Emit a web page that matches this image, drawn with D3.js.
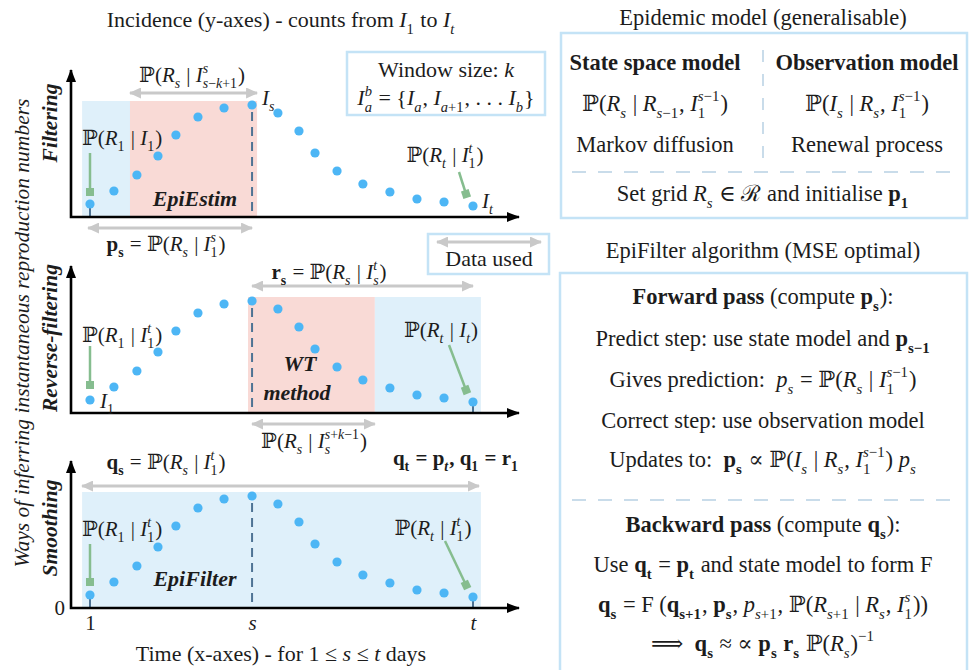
<!DOCTYPE html>
<html><head><meta charset="utf-8">
<script src="https://cdn.jsdelivr.net/npm/d3@7"></script>
<style>body{margin:0;background:#fff} svg text{white-space:pre}</style>
</head><body>
<svg id="c" width="970" height="670"></svg>
<script>
// ---------- data ----------
const days = [1, 2.00, 2.96, 3.84, 4.59, 5.51, 6.60, 7.77, 8.85, 9.73, 10.40, 11.32, 12.40, 13.53, 14.66, 15.79, 17];
const incidence = [13, 26, 42, 61, 82, 100, 109, 112, 104, 86, 64, 46, 33, 25, 18, 15, 11];
const tickDays = [1, 7.77, 17];
const tickLabels = ["1", "s", "t"];
const panelNames = ["Filtering", "Reverse-filtering", "Smoothing"];
const methodNames = ["EpiEstim", "WT method", "EpiFilter"];

// ---------- style ----------
const FF = '"Liberation Serif","DejaVu Serif",serif';
const C = {dot:'#4db6f5', bsh:'#dff0fa', rsh:'#f9dad6', grey:'#c9c9c9', green:'#86bd8f',
           dash:'#4e7394', box:'#c4e3f6', div:'#c9dcea', txt:'#1c1c1c'};

const svg = d3.select('#c');
const defs = svg.append('defs');
function marker(id, color, len, wid){
  defs.append('marker').attr('id',id).attr('viewBox',`0 0 ${len} ${wid}`)
    .attr('refX',len-1).attr('refY',wid/2).attr('markerWidth',len).attr('markerHeight',wid)
    .attr('markerUnits','userSpaceOnUse').attr('orient','auto-start-reverse')
    .append('path').attr('d',`M0,0L${len},${wid/2}L0,${wid}Z`).attr('fill',color);
}
marker('ax','#000',13,10);
marker('gr',C.grey,12,11);

// ---------- rich text (mini math markup) ----------
const cv = document.createElement('canvas').getContext('2d');
function meas(s,it,bd,size){ cv.font=`${it?'italic ':''}${bd?'bold ':''}${size}px ${FF}`; return cv.measureText(s).width; }
function parse(str, baseIt, baseBd){
  let i=0, math=false; const st={b:baseBd, I:baseIt, r:false};
  const mk=c=>({t:'ch', s:c, it: st.I || (math && /[A-Za-z]/.test(c) && !st.b && !st.r), bd:st.b});
  function group(){
    const out=[];
    while(i<str.length){
      const c=str[i];
      if(c==='}'){i++;return out;}
      if(c==='$'){math=!math;i++;continue;}
      if(c==='\\'){
        const cmd=str[i+1];
        if(cmd==='{'||cmd==='}'){ out.push({t:'ch',s:cmd,it:false,bd:st.b}); i+=2; continue; }
        i+=3; const save={...st};
        if(cmd==='b'){st.b=true;st.I=false;} else if(cmd==='B'){st.b=true;st.I=true;}
        else if(cmd==='i'){st.I=true;} else if(cmd==='r'){st.r=true;st.I=false;}
        const inner=group(); Object.assign(st,save); out.push({t:'grp',nodes:inner}); continue;
      }
      if(c==='_'||c==='^'){
        i++; const n={t:'scr',sub:null,sup:null}; n[c==='_'?'sub':'sup']=arg();
        if(str[i]==='_'||str[i]==='^'){ const c2=str[i]; i++; n[c2==='_'?'sub':'sup']=arg(); }
        out.push(n); continue;
      }
      out.push(mk(c)); i++;
    }
    return out;
  }
  function arg(){ if(str[i]==='{'){i++;return group();} const c=str[i]; i++; return [mk(c)]; }
  return group();
}
function lay(nodes,size,x,y,out){
  let run=null;
  const flush=()=>{ if(run){ out.push({x,y,s:run.s,it:run.it,bd:run.bd,size}); x+=meas(run.s,run.it,run.bd,size); run=null; } };
  for(const n of nodes){
    if(n.t==='ch'){ if(run&&run.it===n.it&&run.bd===n.bd) run.s+=n.s; else {flush(); run={s:n.s,it:n.it,bd:n.bd};} }
    else if(n.t==='grp'){ flush(); x=lay(n.nodes,size,x,y,out); }
    else { flush(); const ss=size*0.66; let w=0;
      if(n.sub) w=Math.max(w, lay(n.sub,ss,x,y+size*0.3,out)-x);
      if(n.sup) w=Math.max(w, lay(n.sup,ss,x,y-size*0.43,out)-x);
      x+=w+1; }
  }
  flush(); return x;
}
function rich(g,str,o){
  const size=o.size||21, out=[];
  const w=lay(parse(str,!!o.it,!!o.bd),size,0,0,out);
  const x0=o.anchor==='middle'?o.x-w/2:o.anchor==='end'?o.x-w:o.x;
  const t=g.append('text').attr('font-family',FF).attr('fill',o.fill||C.txt).attr('xml:space','preserve');
  out.forEach(p=>t.append('tspan').attr('x',x0+p.x).attr('y',o.y+p.y).attr('font-size',p.size)
    .attr('font-style',p.it?'italic':'normal').attr('font-weight',p.bd?'bold':'normal').text(p.s));
  return t;
}

// ---------- left: three panels ----------
const x = d3.scaleLinear().domain([1,17]).range([90,473]);
const AXX = 71, XEND = 519, YH = 147, SH = 116;
const sIdx = 7, lastIdx = days.length-1;
const panels = [
  {A:217, regions:[[0.67,2.67,C.bsh],[2.67,7.98,C.rsh]], stems:[0]},
  {A:413, regions:[[7.6,12.9,C.rsh],[12.9,17.33,C.bsh]], stems:[lastIdx]},
  {A:608, regions:[[0.67,17.33,C.bsh]], stems:[0,lastIdx]}
];
const L = svg.append('g');

function greyArrow(g,x1,x2,yy){
  g.append('line').attr('x1',x1).attr('x2',x2).attr('y1',yy).attr('y2',yy)
   .attr('stroke',C.grey).attr('stroke-width',3)
   .attr('marker-start','url(#gr)').attr('marker-end','url(#gr)');
}
function greenArrow(g,x1,y1,x2,y2){
  g.append('line').attr('x1',x1).attr('y1',y1).attr('x2',x2).attr('y2',y2)
   .attr('stroke',C.green).attr('stroke-width',2.5);
  g.append('rect').attr('x',x2-4).attr('y',y2-4).attr('width',8).attr('height',8)
   .attr('fill',C.green).attr('transform',`rotate(${Math.atan2(y2-y1,x2-x1)*180/Math.PI-90},${x2},${y2})`);
}

panels.forEach((p,pi)=>{
  const g = L.append('g');
  const y = d3.scaleLinear().domain([0,YH]).range([p.A, p.A-YH]);
  p.y = y;
  g.selectAll('rect.reg').data(p.regions).join('rect').attr('class','reg')
    .attr('x',d=>x(d[0])).attr('width',d=>x(d[1])-x(d[0]))
    .attr('y',y(SH)).attr('height',y(0)-y(SH)).attr('fill',d=>d[2]);
  g.append('line').attr('x1',x(days[sIdx])).attr('x2',x(days[sIdx]))
    .attr('y1',y(incidence[sIdx])+7).attr('y2',p.A)
    .attr('stroke',C.dash).attr('stroke-width',2).attr('stroke-dasharray','9,6');
  g.selectAll('line.stem').data(p.stems).join('line').attr('class','stem')
    .attr('x1',i=>x(days[i])).attr('x2',i=>x(days[i])).attr('y1',i=>y(incidence[i])).attr('y2',p.A)
    .attr('stroke',C.dash).attr('stroke-width',2);
  g.append('path').attr('d',`M${AXX},${y(YH)}L${AXX},${p.A}L${XEND},${p.A}`)
    .attr('fill','none').attr('stroke','#000').attr('stroke-width',2.6)
    .attr('marker-start','url(#ax)').attr('marker-end','url(#ax)');
  g.selectAll('circle').data(incidence).join('circle')
    .attr('cx',(d,i)=>x(days[i])).attr('cy',d=>y(d)).attr('r',4.6).attr('fill',C.dot);
  g.append('text').attr('transform',`translate(57,${[123,338,528][pi]}) rotate(-90)`)
    .attr('text-anchor','middle').attr('font-family',FF).attr('font-size',21.5)
    .attr('font-weight','bold').attr('font-style','italic').attr('fill',C.txt).text(panelNames[pi]);
});

const [P1,P2,P3] = panels;
const lx = i=>x(days[i]), ly = (p,i)=>p.y(incidence[i]);

// Panel 1: filtering
greyArrow(L, x(2.67), x(7.98), P1.A-124);
greyArrow(L, x(0.92), x(days[sIdx]), P1.A+11);
rich(L, String.raw`$ℙ(R_s | I_{s−k+1}^s)$`, {x:192, y:P1.A-135, anchor:'middle'});
rich(L, String.raw`$I_s$`, {x:lx(sIdx)+10, y:P1.A-112});
rich(L, String.raw`$ℙ(R_1 | I_1)$`, {x:82, y:P1.A-72});
rich(L, methodNames[0], {x:195, y:P1.A-11, anchor:'middle', it:true, bd:true, size:22});
rich(L, String.raw`$ℙ(R_t | I_1^t)$`, {x:445, y:P1.A-55, anchor:'middle'});
rich(L, String.raw`$I_t$`, {x:482, y:P1.A-9});
rich(L, String.raw`$\b{p}_{\b{s}} = ℙ(R_s | I_1^s)$`, {x:166, y:P1.A+34, anchor:'middle'});
greenArrow(L, lx(0), P1.A-64, lx(0), P1.A-25);
greenArrow(L, lx(lastIdx)-14, ly(P1,lastIdx)-34, lx(lastIdx)-7, ly(P1,lastIdx)-12);

// Panel 2: reverse filtering
greyArrow(L, x(days[sIdx]), x(17), P2.A-127);
greyArrow(L, x(days[sIdx]), x(12.9), P2.A+11);
rich(L, String.raw`$\b{r}_{\b{s}} = ℙ(R_s | I_s^t)$`, {x:329, y:P2.A-134, anchor:'middle'});
rich(L, String.raw`$ℙ(R_1 | I_1^t)$`, {x:82, y:P2.A-71});
rich(L, String.raw`$I_1$`, {x:lx(0)+10, y:P2.A-5});
rich(L, methodNames[1].split(' ')[0], {x:300, y:P2.A-42, anchor:'middle', it:true, bd:true, size:22});
rich(L, methodNames[1].split(' ')[1], {x:297, y:P2.A-13, anchor:'middle', it:true, bd:true, size:22});
rich(L, String.raw`$ℙ(R_t | I_t)$`, {x:441, y:P2.A-76, anchor:'middle'});
rich(L, String.raw`$ℙ(R_s | I_s^{s+k−1})$`, {x:314, y:P2.A+35, anchor:'middle'});
greenArrow(L, lx(0), P2.A-67, lx(0), P2.A-28);
greenArrow(L, lx(lastIdx)-24, ly(P2,lastIdx)-57, lx(lastIdx)-7, ly(P2,lastIdx)-12);

// Panel 3: smoothing
greyArrow(L, x(0.67), x(17.25), P3.A-122);
rich(L, String.raw`$\b{q}_{\b{s}} = ℙ(R_s | I_1^t)$`, {x:166, y:P3.A-139, anchor:'middle'});
rich(L, String.raw`$\b{q}_{\b{t}} = \b{p}_{\B{t}}, \b{q}_{\b{1}} = \b{r}_{\b{1}}$`, {x:519, y:P3.A-143, anchor:'end', bd:true});
rich(L, String.raw`$ℙ(R_1 | I_1^t)$`, {x:82, y:P3.A-72});
rich(L, methodNames[2], {x:195, y:P3.A-22, anchor:'middle', it:true, bd:true, size:22});
rich(L, String.raw`$ℙ(R_t | I_1^t)$`, {x:433, y:P3.A-73, anchor:'middle'});
greenArrow(L, lx(0), P3.A-64, lx(0), P3.A-26);
greenArrow(L, lx(lastIdx)-28, ly(P3,lastIdx)-56, lx(lastIdx)-7, ly(P3,lastIdx)-12);

// axis tick labels (bottom panel)
const xAx = L.append('g').attr('transform',`translate(0,${P3.A})`)
  .call(d3.axisBottom(x).tickValues(tickDays).tickFormat((d,i)=>tickLabels[i]).tickSize(0).tickPadding(7));
xAx.select('.domain').remove();
xAx.selectAll('text').attr('font-family',FF).attr('font-size',21).attr('fill',C.txt)
  .attr('font-style',(d,i)=>i>0?'italic':'normal');
const yAx = L.append('g').attr('transform',`translate(${AXX},0)`)
  .call(d3.axisLeft(P3.y).tickValues([0]).tickSize(0).tickPadding(6));
yAx.select('.domain').remove();
yAx.selectAll('text').attr('font-family',FF).attr('font-size',21).attr('fill',C.txt);

// titles
rich(L, String.raw`Incidence (y-axes) - counts from $I_1$ to $I_t$`, {x:281, y:27, anchor:'middle', size:22});
rich(L, String.raw`Time (x-axes) - for 1 ≤ $s$ ≤ $t$ days`, {x:281, y:661, anchor:'middle', size:22});
L.append('text').attr('transform','translate(29,333) rotate(-90)').attr('text-anchor','middle')
  .attr('font-family',FF).attr('font-size',21.5).attr('font-style','italic').attr('fill',C.txt)
  .text('Ways of inferring instantaneous reproduction numbers');

// window-size box
L.append('rect').attr('x',347).attr('y',52).attr('width',198).attr('height',63)
  .attr('fill','#fff').attr('stroke',C.box).attr('stroke-width',2.5);
rich(L, String.raw`Window size: $k$`, {x:446, y:77, anchor:'middle', size:22});
rich(L, String.raw`$I_a^b = \{I_a, I_{a+1}, . . . I_b\}$`, {x:446, y:105, anchor:'middle', size:22});
// data used box
L.append('rect').attr('x',428).attr('y',234).attr('width',121).attr('height',40)
  .attr('fill','#fff').attr('stroke',C.box).attr('stroke-width',2.5);
greyArrow(L, 437, 541, 242);
rich(L, 'Data used', {x:489, y:266, anchor:'middle', size:22});

// ---------- right: model & algorithm ----------
const R = svg.append('g');
const RS = 22.5, RC = 763;
rich(R, 'Epidemic model (generalisable)', {x:RC, y:25, anchor:'middle', size:RS});
R.append('rect').attr('x',561).attr('y',33).attr('width',406).attr('height',185)
  .attr('fill','none').attr('stroke',C.box).attr('stroke-width',2.5);
R.append('line').attr('x1',RC).attr('x2',RC).attr('y1',50).attr('y2',162)
  .attr('stroke',C.div).attr('stroke-width',2).attr('stroke-dasharray','12,12');
R.append('line').attr('x1',572).attr('x2',958).attr('y1',172).attr('y2',172)
  .attr('stroke',C.div).attr('stroke-width',2).attr('stroke-dasharray','14,12');
rich(R, String.raw`\b{State space model}`, {x:655, y:70, anchor:'middle', size:RS});
rich(R, String.raw`\b{Observation model}`, {x:867, y:70, anchor:'middle', size:RS});
rich(R, String.raw`$ℙ(R_s | R_{s−1}, I_1^{s−1})$`, {x:655, y:111, anchor:'middle', size:RS});
rich(R, String.raw`$ℙ(I_s | R_s, I_1^{s−1})$`, {x:867, y:111, anchor:'middle', size:RS});
rich(R, 'Markov diffusion', {x:655, y:152, anchor:'middle', size:RS});
rich(R, 'Renewal process', {x:867, y:152, anchor:'middle', size:RS});
rich(R, String.raw`Set grid $R_s$ ∈ ℛ and initialise $\b{p}_{\b{1}}$`, {x:RC, y:201, anchor:'middle', size:RS});

rich(R, 'EpiFilter algorithm (MSE optimal)', {x:RC, y:258, anchor:'middle', size:RS});
R.append('rect').attr('x',560).attr('y',273).attr('width',407).attr('height',420)
  .attr('fill','none').attr('stroke',C.box).attr('stroke-width',2.5);
R.append('line').attr('x1',572).attr('x2',958).attr('y1',500).attr('y2',500)
  .attr('stroke',C.div).attr('stroke-width',2).attr('stroke-dasharray','14,12');
const algo = [
  [String.raw`\b{Forward pass} (compute $\b{p}_{\b{s}}$):`, 304],
  [String.raw`Predict step: use state model and $\b{p}_{\b{s−1}}$`, 346],
  [String.raw`Gives prediction:  $p_s = ℙ(R_s | I_1^{s−1})$`, 387],
  [String.raw`Correct step: use observation model`, 428],
  [String.raw`Updates to:  $\b{p}_{\b{s}} ∝ ℙ(I_s | R_s, I_1^{s−1}) p_s$`, 467],
  [String.raw`\b{Backward pass} (compute $\b{q}_{\b{s}}$):`, 532],
  [String.raw`Use $\b{q}_{\b{t}} = \b{p}_{\b{t}}$ and state model to form F`, 572],
  [String.raw`$\b{q}_{\b{s}} = \r{F} (\b{q}_{\b{s+1}}, \b{p}_{\b{s}}, p_{s+1}, ℙ(R_{s+1} | R_s, I_1^s))$`, 612],
  [String.raw`$⟹  \b{q}_{\b{s}} ≈ ∝ \b{p}_{\b{s}} \b{r}_{\b{s}} ℙ(R_s)^{−1}$`, 651]
];
algo.forEach(([s,yy])=>rich(R, s, {x:RC, y:yy, anchor:'middle', size:RS}));
</script>
</body></html>
